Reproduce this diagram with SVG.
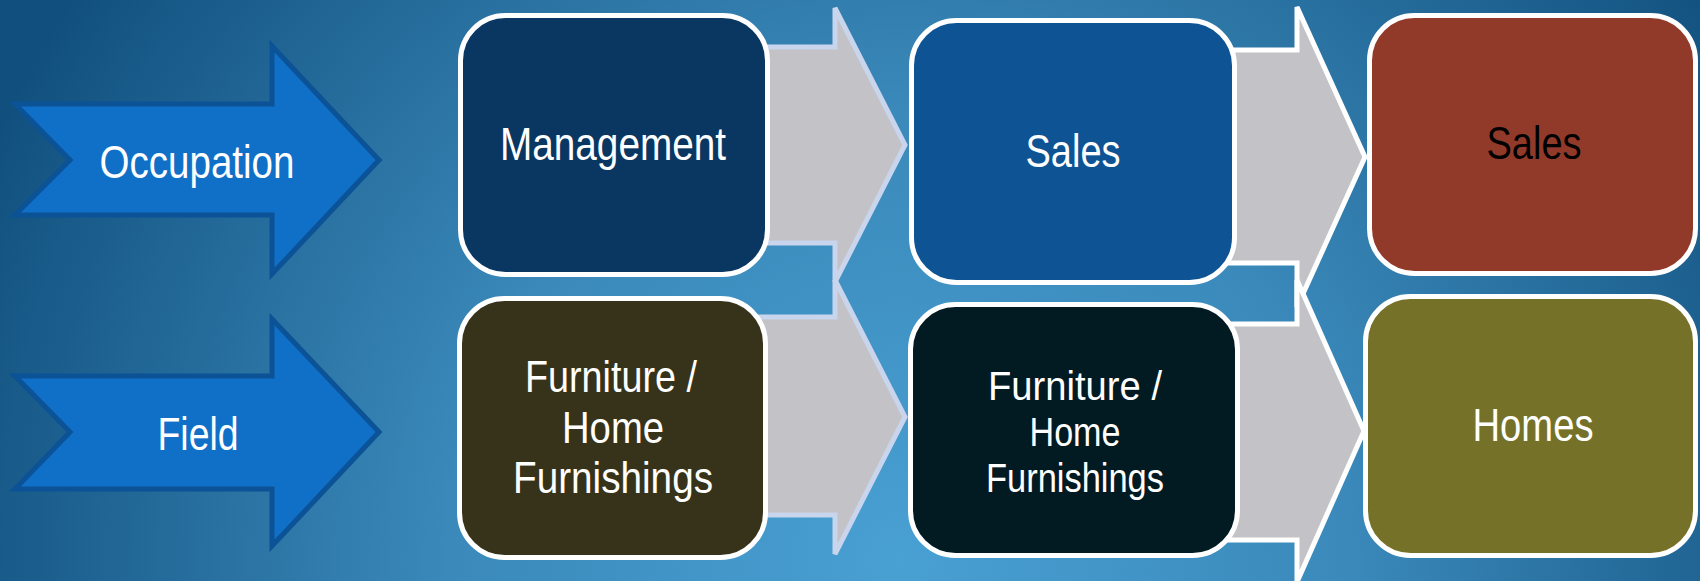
<svg xmlns="http://www.w3.org/2000/svg" width="1700" height="581" viewBox="0 0 1700 581">
  <defs>
    <radialGradient id="bg" gradientUnits="userSpaceOnUse" cx="900" cy="560" r="1000">
      <stop offset="0" stop-color="#49A0D3"/>
      <stop offset="0.45" stop-color="#3A89BA"/>
      <stop offset="1" stop-color="#11507E"/>
    </radialGradient>
    <style>
      .lbl { font-family: "Liberation Sans", Arial, sans-serif; font-size: 46px; fill: #FFFFFF; text-anchor: middle; }
      .lbl-s { font-size: 44px; }
      .lbl-xs { font-size: 40px; }
      .dark { fill: #000000; }
      .blue-arrow { fill: #1070C8; stroke: #0B5296; stroke-width: 5; stroke-linejoin: miter; }
      .step-a { fill: #C3C2C7; stroke: #C8D5EC; stroke-width: 5; stroke-linejoin: miter; }
      .step-b { fill: #C3C2C7; stroke: #FFFFFF; stroke-width: 5; stroke-linejoin: miter; }
      .box { stroke: #FFFFFF; stroke-width: 5; }
    </style>
  </defs>

  <rect x="0" y="0" width="1700" height="581" fill="url(#bg)"/>

  <!-- connectors: wide chevron arrows between columns -->
  <g id="connectors">
    <polygon class="step-a" points="740,47 835,47 835,8 905,145 835,282 835,243 740,243"/>
    <polygon class="step-a" points="740,317 835,317 835,280 905,417 835,554 835,515 740,515"/>
    <polygon class="step-b" points="1200,50 1297,50 1297,7 1365,157 1297,307 1297,263 1200,263"/>
    <polygon class="step-b" points="1200,324 1297,324 1297,280 1364,431 1297,582 1297,540 1200,540"/>
  </g>

  <!-- row headings -->
  <g id="occupation">
    <polygon class="blue-arrow" points="15,104 272,104 272,46 379,160 272,274 272,215 15,215 70,160"/>
    <text class="lbl" x="197" y="178" textLength="195" lengthAdjust="spacingAndGlyphs">Occupation</text>
  </g>
  <g id="field">
    <polygon class="blue-arrow" points="15,376 272,376 272,319 379,432 272,546 272,489 15,489 70,432"/>
    <text class="lbl" x="198" y="450" textLength="81" lengthAdjust="spacingAndGlyphs">Field</text>
  </g>

  <!-- first column -->
  <g id="management">
    <rect class="box" x="460.5" y="15.5" width="307" height="259" rx="45" fill="#0A3662"/>
    <text class="lbl" x="613" y="160" textLength="226" lengthAdjust="spacingAndGlyphs">Management</text>
  </g>
  <g id="furniture-1">
    <rect class="box" x="459.5" y="298.5" width="306" height="259" rx="45" fill="#37331A"/>
    <text class="lbl lbl-s" x="611" y="392" textLength="172" lengthAdjust="spacingAndGlyphs">Furniture /</text>
    <text class="lbl lbl-s" x="613" y="443" textLength="102" lengthAdjust="spacingAndGlyphs">Home</text>
    <text class="lbl lbl-s" x="613" y="493" textLength="200" lengthAdjust="spacingAndGlyphs">Furnishings</text>
  </g>

  <!-- second column -->
  <g id="sales-1">
    <rect class="box" x="911.5" y="20.5" width="323" height="262" rx="45" fill="#0E5394"/>
    <text class="lbl" x="1073" y="167" textLength="95" lengthAdjust="spacingAndGlyphs">Sales</text>
  </g>
  <g id="furniture-2">
    <rect class="box" x="910.5" y="304.5" width="327" height="251" rx="45" fill="#021A22"/>
    <text class="lbl lbl-xs" x="1075" y="400" textLength="174" lengthAdjust="spacingAndGlyphs">Furniture /</text>
    <text class="lbl lbl-xs" x="1075" y="446" textLength="91" lengthAdjust="spacingAndGlyphs">Home</text>
    <text class="lbl lbl-xs" x="1075" y="492" textLength="178" lengthAdjust="spacingAndGlyphs">Furnishings</text>
  </g>

  <!-- third column -->
  <g id="sales-2">
    <rect class="box" x="1369.5" y="15.5" width="326" height="258" rx="45" fill="#923A2A"/>
    <text class="lbl dark" x="1534" y="159" textLength="95" lengthAdjust="spacingAndGlyphs">Sales</text>
  </g>
  <g id="homes">
    <rect class="box" x="1365.5" y="296.5" width="330" height="259" rx="45" fill="#767128"/>
    <text class="lbl" x="1533" y="441" textLength="121" lengthAdjust="spacingAndGlyphs">Homes</text>
  </g>
</svg>
